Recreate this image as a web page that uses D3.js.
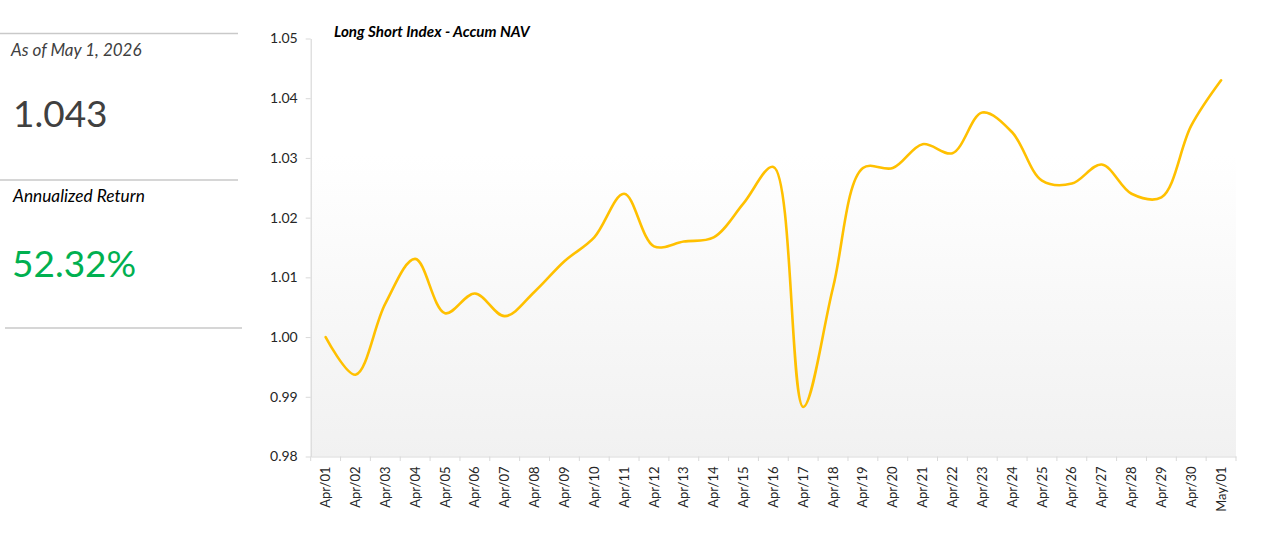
<!DOCTYPE html>
<html>
<head>
<meta charset="utf-8">
<script src="https://cdn.jsdelivr.net/npm/d3@7"></script>
<style>
  html, body { margin: 0; padding: 0; background: #fff; }
  svg { display: block; font-family: Lato, "Open Sans", sans-serif; }
</style>
</head>
<body>
<svg id="chart" width="1280" height="536"></svg>
<script>
const categories = ["Apr/01","Apr/02","Apr/03","Apr/04","Apr/05","Apr/06","Apr/07","Apr/08","Apr/09","Apr/10",
  "Apr/11","Apr/12","Apr/13","Apr/14","Apr/15","Apr/16","Apr/17","Apr/18","Apr/19","Apr/20",
  "Apr/21","Apr/22","Apr/23","Apr/24","Apr/25","Apr/26","Apr/27","Apr/28","Apr/29","Apr/30","May/01"];
const navValues = [1.0000, 0.9937, 1.0056, 1.0131, 1.0040, 1.0073, 1.0035, 1.0076, 1.0127, 1.0167,
  1.0240, 1.0152, 1.0160, 1.0167, 1.0224, 1.0285, 0.9883, 1.0083, 1.0283, 1.0283,
  1.0323, 1.0308, 1.0376, 1.0343, 1.0262, 1.0257, 1.0289, 1.0240, 1.0234, 1.0354, 1.0430];
const yTicks = [0.98, 0.99, 1.00, 1.01, 1.02, 1.03, 1.04, 1.05];
const chartTitle = "Long Short Index - Accum NAV";
const asOfLabel = "As of May 1, 2026";
const latestNav = "1.043";
const returnLabel = "Annualized Return";
const annualizedReturn = "52.32%";

const svg = d3.select("#chart");

// Left info panel
const panel = svg.append("g");
panel.append("line").attr("x1", 0).attr("x2", 238).attr("y1", 33.5).attr("y2", 33.5)
  .attr("stroke", "#c9c9c9").attr("stroke-width", 1.5);
panel.append("line").attr("x1", 0).attr("x2", 238).attr("y1", 180).attr("y2", 180)
  .attr("stroke", "#c9c9c9").attr("stroke-width", 1.5);
panel.append("line").attr("x1", 5).attr("x2", 242).attr("y1", 328).attr("y2", 328)
  .attr("stroke", "#c9c9c9").attr("stroke-width", 1.5);
panel.append("text").attr("x", 11).attr("y", 56).attr("font-size", 17).attr("font-style", "italic")
  .attr("fill", "#404040").text(asOfLabel);
panel.append("text").attr("x", 13).attr("y", 127).attr("font-size", 37)
  .attr("fill", "#404040").text(latestNav);
panel.append("text").attr("x", 13).attr("y", 202).attr("font-size", 17.3).attr("font-style", "italic")
  .attr("fill", "#000").text(returnLabel);
panel.append("text").attr("x", 12).attr("y", 277).attr("font-size", 37)
  .attr("fill", "#00B050").text(annualizedReturn);

// Chart
const plotLeft = 310.7, plotRight = 1236, plotTop = 38.5, plotBottom = 456.5;
const x = d3.scaleBand().domain(categories).range([plotLeft, plotRight]).padding(0);
const y = d3.scaleLinear().domain([0.98, 1.05]).range([plotBottom, plotTop]);

const defs = svg.append("defs");
const grad = defs.append("linearGradient").attr("id", "bg").attr("x1", 0).attr("x2", 0).attr("y1", 0).attr("y2", 1);
grad.append("stop").attr("offset", "0%").attr("stop-color", "#ffffff");
grad.append("stop").attr("offset", "28%").attr("stop-color", "#ffffff");
grad.append("stop").attr("offset", "100%").attr("stop-color", "#f1f1f1");

svg.append("rect").attr("x", plotLeft).attr("y", y(1.05)).attr("width", plotRight - plotLeft)
  .attr("height", y(0.98) - y(1.05)).attr("fill", "url(#bg)");

// Y axis
const yAxis = svg.append("g").attr("transform", `translate(${plotLeft},0)`)
  .call(d3.axisLeft(y).tickValues(yTicks).tickFormat(d3.format(".2f")).tickSize(5).tickSizeOuter(0));
yAxis.select(".domain").attr("stroke", "#d9d9d9").attr("stroke-width", 1.2);
yAxis.selectAll(".tick line").attr("stroke", "#d9d9d9");
yAxis.selectAll(".tick text").attr("font-size", 14).attr("fill", "#262626")
  .attr("font-family", "Lato, sans-serif").attr("x", -13).attr("dy", "0.32em");

// X axis
const xAxis = svg.append("g").attr("transform", `translate(0,${plotBottom})`)
  .call(d3.axisBottom(x).tickSize(0).tickSizeOuter(0));
xAxis.select(".domain").attr("stroke", "#d9d9d9").attr("stroke-width", 1.2);
xAxis.selectAll(".tick text")
  .attr("font-size", 13).attr("fill", "#262626").attr("font-family", "Lato, sans-serif")
  .attr("text-anchor", "end").attr("transform", "rotate(-90)")
  .attr("x", -10).attr("y", 0).attr("dy", "0.35em");
// Category boundary ticks
const bounds = categories.map(c => x(c)).concat([plotRight]);
xAxis.selectAll(".btick").data(bounds).enter().append("line")
  .attr("class", "btick").attr("x1", d => d).attr("x2", d => d).attr("y1", 0).attr("y2", 4.5)
  .attr("stroke", "#d9d9d9").attr("stroke-width", 1);

// Line
const line = d3.line()
  .x((d, i) => x(categories[i]) + x.bandwidth() / 2)
  .y(d => y(d))
  .curve(d3.curveCatmullRom.alpha(0.5));
svg.append("path").datum(navValues).attr("d", line)
  .attr("fill", "none").attr("stroke", "#FFC000").attr("stroke-width", 2.6)
  .attr("stroke-linejoin", "round").attr("stroke-linecap", "round");

// Title
svg.append("text").attr("x", 334).attr("y", 37).attr("font-size", 15.2)
  .attr("font-weight", "bold").attr("font-style", "italic").attr("fill", "#000")
  .text(chartTitle);
</script>
</body>
</html>
